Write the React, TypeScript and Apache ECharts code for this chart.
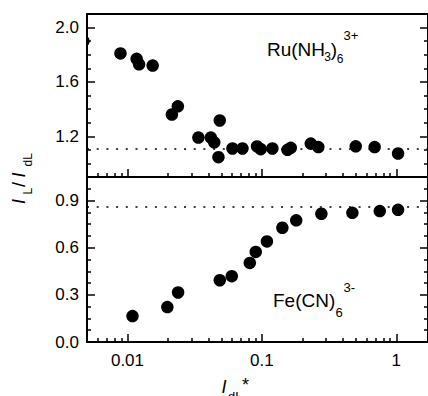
import React, { useEffect, useRef } from "react";
import * as echarts from "echarts";

// ---- data ----
const X_MIN = 0.005;
const X_MAX = 1.72;
const X_TICK_LABELS = ["0.01", "0.1", "1"];
const X_MINOR = [
  0.006, 0.007, 0.008, 0.009,
  0.02, 0.03, 0.04, 0.05, 0.06, 0.07, 0.08, 0.09,
  0.2, 0.3, 0.4, 0.5, 0.6, 0.7, 0.8, 0.9,
];

const Y1_MIN = 0.9;
const Y1_MAX = 2.1;
const Y1_MAJOR = [1.2, 1.6, 2.0];
const Y1_MINOR = [1.0, 1.1, 1.3, 1.4, 1.5, 1.7, 1.8, 1.9];

const Y2_MIN = 0;
const Y2_MAX = 1.05;
const Y2_MAJOR = [0, 0.3, 0.6, 0.9];
const Y2_MINOR = [0.075, 0.15, 0.225, 0.375, 0.45, 0.525, 0.675, 0.75, 0.825, 0.975];

// Ru(NH3)6 3+
const RU_X = [0.00887, 0.0117, 0.0122, 0.0154, 0.0214, 0.0237, 0.0337, 0.0417, 0.0442, 0.0486, 0.0475, 0.0604, 0.0717, 0.092, 0.098, 0.1197, 0.155, 0.164, 0.231, 0.263, 0.499, 0.69, 1.03];
const RU_Y = [1.81, 1.77, 1.73, 1.72, 1.36, 1.42, 1.19, 1.19, 1.155, 1.316, 1.046, 1.11, 1.11, 1.125, 1.105, 1.11, 1.10, 1.115, 1.146, 1.12, 1.126, 1.12, 1.073];
// point partly outside the left edge
const RU_EDGE_X = [0.0047];
const RU_EDGE_Y = [1.9];
const RU_PLATEAU = 1.11;

// Fe(CN)6 3-
const FE_X = [0.0109, 0.0198, 0.0238, 0.0486, 0.0597, 0.0813, 0.09, 0.109, 0.142, 0.18, 0.277, 0.471, 0.753, 1.03];
const FE_Y = [0.165, 0.222, 0.315, 0.393, 0.419, 0.503, 0.573, 0.64, 0.727, 0.774, 0.816, 0.822, 0.833, 0.841];
const FE_PLATEAU = 0.862;

const FONT = "'Liberation Sans', Arial, Helvetica, sans-serif";
const BLACK = "#000";
const DOT = 12.5;

function zip(xs: number[], ys: number[]) {
  return xs.map((x, i) => [x, ys[i]]);
}

function xAxesFor(gridIndex: number, labels: boolean) {
  return [
    {
      type: "log",
      gridIndex,
      position: "bottom",
      min: X_MIN,
      max: X_MAX,
      logBase: 10,
      axisLine: { show: true, onZero: false, lineStyle: { color: BLACK, width: 2 } },
      axisTick: { show: true, inside: true, length: 8, lineStyle: { color: BLACK, width: 1.5 } },
      minorTick: { show: false },
      splitLine: { show: false },
      axisLabel: {
        show: labels,
        margin: 10,
        color: BLACK,
        fontSize: 17,
        fontFamily: FONT,
        showMinLabel: false,
        showMaxLabel: false,
        formatter: (v: number) => {
          const s = String(+Number(v).toPrecision(3));
          return X_TICK_LABELS.includes(s) ? s : "";
        },
      },
    },
    {
      type: "value",
      gridIndex,
      position: "bottom",
      min: Math.log10(X_MIN),
      max: Math.log10(X_MAX),
      axisLine: { show: false, onZero: false },
      axisTick: {
        show: true,
        inside: true,
        length: 4,
        customValues: X_MINOR.map((v) => Math.log10(v)),
        lineStyle: { color: BLACK, width: 1.5 },
      },
      axisLabel: { show: false },
      splitLine: { show: false },
    },
  ];
}

function yAxesFor(gridIndex: number, min: number, max: number, major: number[], minor: number[]) {
  const base = { type: "value", gridIndex, min, max, splitLine: { show: false } };
  const tickStyle = { color: BLACK, width: 1.5 };
  return [
    {
      ...base,
      position: "left",
      axisLine: { show: true, onZero: false, lineStyle: { color: BLACK, width: 2 } },
      axisTick: { show: true, inside: true, length: 8, customValues: major, lineStyle: tickStyle },
      axisLabel: {
        show: true,
        customValues: major,
        margin: 8,
        color: BLACK,
        fontSize: 17,
        fontFamily: FONT,
        formatter: (v: number) => Number(v).toFixed(1),
      },
    },
    {
      ...base,
      position: "left",
      axisLine: { show: false, onZero: false },
      axisTick: { show: true, inside: true, length: 4, customValues: minor, lineStyle: tickStyle },
      axisLabel: { show: false },
    },
    {
      ...base,
      position: "right",
      axisLine: { show: false, onZero: false },
      axisTick: { show: true, inside: true, length: 8, customValues: major, lineStyle: tickStyle },
      axisLabel: { show: false },
    },
    {
      ...base,
      position: "right",
      axisLine: { show: false, onZero: false },
      axisTick: { show: true, inside: true, length: 4, customValues: minor, lineStyle: tickStyle },
      axisLabel: { show: false },
    },
  ];
}

function txt(text: string, x: number, baseline: number, size: number, italic = false) {
  return {
    type: "text",
    x,
    y: baseline - 0.3465 * size,
    silent: true,
    style: {
      text,
      fill: BLACK,
      fontSize: size,
      fontFamily: FONT,
      fontStyle: italic ? "italic" : "normal",
      align: "left",
      verticalAlign: "middle",
    },
  };
}

function plateau(value: number) {
  return {
    silent: true,
    symbol: "none",
    label: { show: false },
    lineStyle: { color: BLACK, type: [2, 7.7], width: 1.6, opacity: 1 },
    emphasis: { disabled: true },
    data: [{ yAxis: value }],
  };
}

export default function App() {
  const ref = useRef<HTMLDivElement>(null);

  useEffect(() => {
    if (!ref.current) return;
    const chart = echarts.init(ref.current, undefined, { renderer: "svg" });

    const option: any = {
      animation: false,
      backgroundColor: "#fff",
      grid: [
        { left: 87, right: -1, top: 14, height: 163, show: true, borderColor: BLACK, borderWidth: 2, backgroundColor: "transparent" },
        { left: 87, right: -1, top: 177, height: 165, show: true, borderColor: BLACK, borderWidth: 2, backgroundColor: "transparent" },
      ],
      xAxis: [...xAxesFor(0, false), ...xAxesFor(1, true)],
      yAxis: [
        ...yAxesFor(0, Y1_MIN, Y1_MAX, Y1_MAJOR, Y1_MINOR),
        ...yAxesFor(1, Y2_MIN, Y2_MAX, Y2_MAJOR, Y2_MINOR),
      ],
      series: [
        {
          type: "scatter",
          xAxisIndex: 0,
          yAxisIndex: 0,
          symbol: "circle",
          symbolSize: DOT,
          itemStyle: { color: BLACK, opacity: 1 },
          data: zip(RU_X, RU_Y),
          markLine: plateau(RU_PLATEAU),
          z: 3,
        },
        {
          type: "custom",
          xAxisIndex: 0,
          yAxisIndex: 0,
          clip: true,
          data: zip(RU_EDGE_X, RU_EDGE_Y),
          renderItem: (_p: any, api: any) => {
            const pt = api.coord([api.value(0), api.value(1)]);
            return { type: "circle", shape: { cx: pt[0], cy: pt[1], r: DOT / 2 }, style: { fill: BLACK } };
          },
          z: 3,
        },
        {
          type: "scatter",
          xAxisIndex: 2,
          yAxisIndex: 4,
          symbol: "circle",
          symbolSize: DOT,
          itemStyle: { color: BLACK, opacity: 1 },
          data: zip(FE_X, FE_Y),
          markLine: plateau(FE_PLATEAU),
          z: 3,
        },
      ],
      graphic: [
        // Ru(NH3)6 3+
        txt("Ru(NH", 267, 56.3, 19),
        txt("3", 324.3, 61, 12),
        txt(")", 330.8, 56.3, 19),
        txt("6", 336.8, 63, 12),
        txt("3+", 343.6, 40, 13),
        // Fe(CN)6 3-
        txt("Fe(CN)", 273, 307.3, 19),
        txt("6", 335.6, 316.7, 13),
        txt("3-", 343.4, 291.7, 13),
        // x axis title: I_dL*
        txt("I", 221.5, 393, 18, true),
        txt("dL", 228, 401.5, 13),
        txt("*", 242, 391, 18),
        // y axis title: I_L / I_dL
        {
          type: "group",
          x: 25,
          y: 204,
          rotation: Math.PI / 2,
          children: [
            txt("I", 0, 0, 18, true),
            txt("L", 9.5, 7, 12),
            txt("/", 17, 0, 18),
            txt("I", 26.5, 0, 18, true),
            txt("dL", 37.5, 7, 12),
          ],
        },
      ],
    };

    chart.setOption(option);
    return () => chart.dispose();
  }, []);

  return (
    <div
      ref={ref}
      style={{ position: "fixed", left: 0, top: 0, width: 428, height: 396, background: "#fff" }}
    />
  );
}
